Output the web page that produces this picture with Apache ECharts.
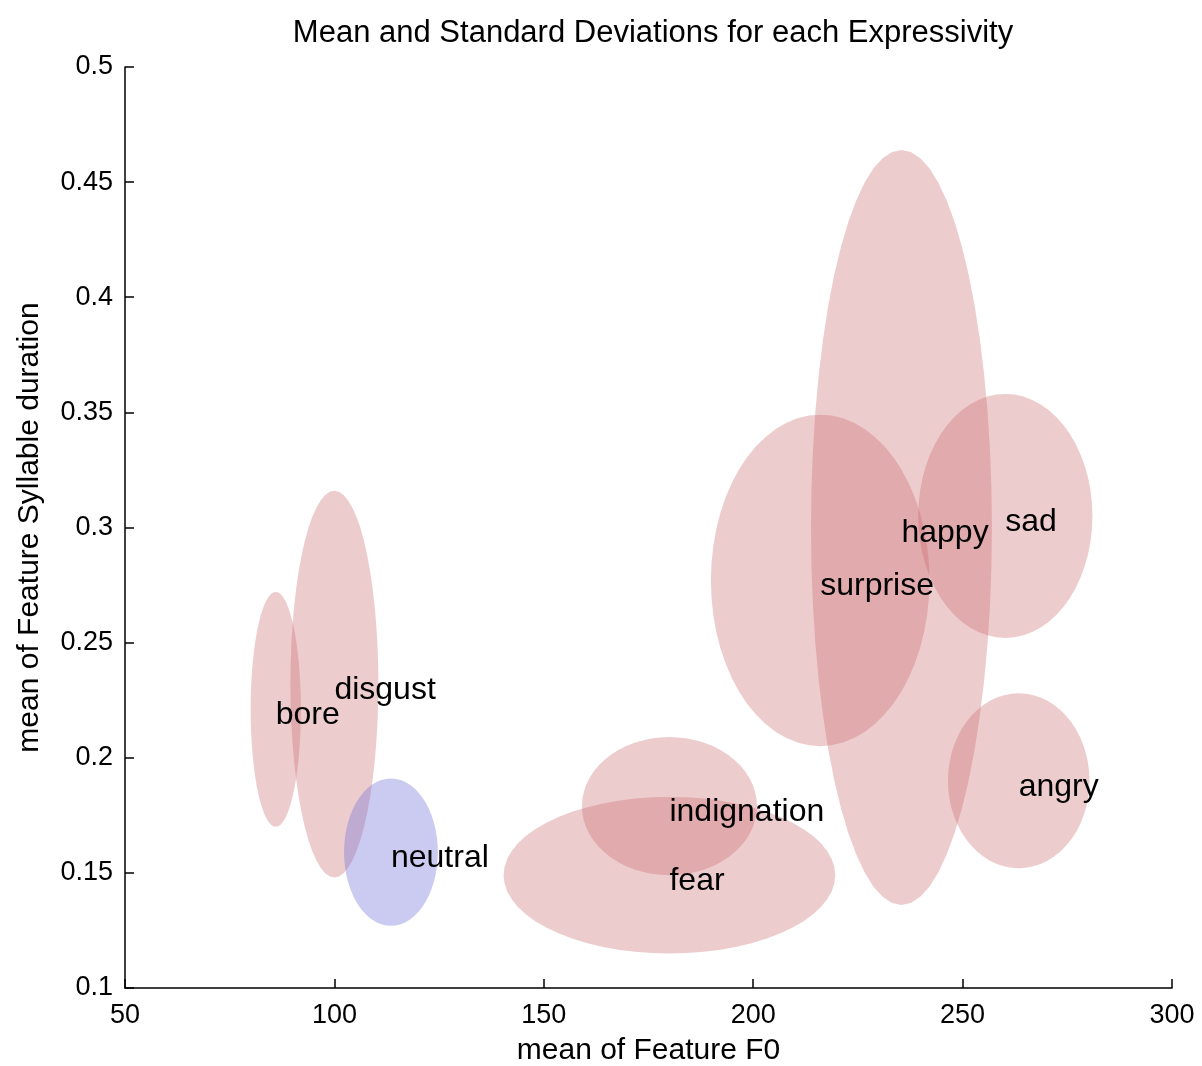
<!DOCTYPE html>
<html>
<head>
<meta charset="utf-8">
<script src="https://cdn.jsdelivr.net/npm/echarts@6/dist/echarts.min.js"></script>
<style>
html,body{margin:0;padding:0;background:#fff;}
#chart{width:1202px;height:1066px;}
</style>
</head>
<body>
<div id="chart"></div>
<script>
// Data
var names   = ['bore', 'disgust', 'neutral', 'fear', 'indignation', 'happy', 'surprise', 'sad', 'angry'];
var meanF0  = [86, 100, 113.5, 180, 180, 235.4, 216, 260.2, 263.4];
var meanDur = [0.221, 0.232, 0.159, 0.149, 0.179, 0.300, 0.277, 0.305, 0.190];
var stdF0   = [6, 10.5, 11.2, 39.6, 20.9, 21.6, 26.1, 20.8, 16.9];
var stdDur  = [0.051, 0.084, 0.032, 0.034, 0.030, 0.164, 0.072, 0.053, 0.038];
var xTicks = [50, 100, 150, 200, 250, 300];
var yTicks = [0.1, 0.15, 0.2, 0.25, 0.3, 0.35, 0.4, 0.45, 0.5];

var PINK = 'rgba(200,100,105,0.33)';
var BLUE = 'rgba(110,110,215,0.36)';
var FONT = 'Liberation Sans, Arial, Helvetica, sans-serif';

var ellData = names.map(function (n, i) {
  return { name: n, value: [meanF0[i], meanDur[i], stdF0[i], stdDur[i]] };
});

var chart = echarts.init(document.getElementById('chart'), null, { renderer: 'canvas' });
chart.setOption({
  backgroundColor: '#fff',
  animation: false,
  title: {
    text: 'Mean and Standard Deviations for each Expressivity',
    left: 648, textAlign: 'center', top: 13,
    textStyle: { fontFamily: FONT, fontSize: 31, fontWeight: 'normal', color: '#000' }
  },
  grid: { left: 125, right: 30, top: 67, bottom: 78, containLabel: false, outerBoundsMode: 'none' },
  xAxis: {
    type: 'value', min: xTicks[0], max: xTicks[xTicks.length - 1], interval: 50,
    name: 'mean of Feature F0', nameLocation: 'middle', nameGap: 48,
    nameTextStyle: { fontFamily: FONT, fontSize: 30, color: '#000' },
    axisLine: { lineStyle: { color: '#000', width: 1.5 } },
    axisTick: { inside: true, length: 9, lineStyle: { color: '#000', width: 1.5 } },
    axisLabel: { fontFamily: FONT, fontSize: 27, color: '#000', margin: 14 },
    splitLine: { show: false }
  },
  yAxis: {
    type: 'value', min: yTicks[0], max: yTicks[yTicks.length - 1], interval: 0.05,
    name: 'mean of Feature Syllable duration', nameLocation: 'middle', nameGap: 80,
    nameTextStyle: { fontFamily: FONT, fontSize: 30, color: '#000' },
    axisLine: { lineStyle: { color: '#000', width: 1.5 } },
    axisTick: { inside: true, length: 9, lineStyle: { color: '#000', width: 1.5 } },
    axisLabel: { fontFamily: FONT, fontSize: 27, color: '#000', margin: 12 },
    splitLine: { show: false }
  },
  series: [
    {
      type: 'custom',
      data: ellData,
      encode: { x: 0, y: 1 },
      clip: true,
      renderItem: function (params, api) {
        var cx = api.value(0), cy = api.value(1), sx = api.value(2), sy = api.value(3);
        var pts = [];
        var N = 60;
        for (var k = 0; k < N; k++) {
          var t = Math.PI / 2 + 2 * Math.PI * k / N;
          pts.push(api.coord([cx + sx * Math.cos(t), cy + sy * Math.sin(t)]));
        }
        var isNeutral = names[params.dataIndex] === 'neutral';
        return {
          type: 'polygon',
          shape: { points: pts },
          style: { fill: isNeutral ? BLUE : PINK, stroke: null }
        };
      },
      z: 2
    },
    {
      type: 'custom',
      data: ellData,
      encode: { x: 0, y: 1 },
      renderItem: function (params, api) {
        var p = api.coord([api.value(0), api.value(1)]);
        return {
          type: 'text',
          x: p[0], y: p[1] + 6,
          style: {
            text: names[params.dataIndex],
            fill: '#000',
            fontFamily: FONT, fontSize: 32,
            align: 'left', verticalAlign: 'middle'
          }
        };
      },
      z: 5
    }
  ]
});
</script>
</body>
</html>
